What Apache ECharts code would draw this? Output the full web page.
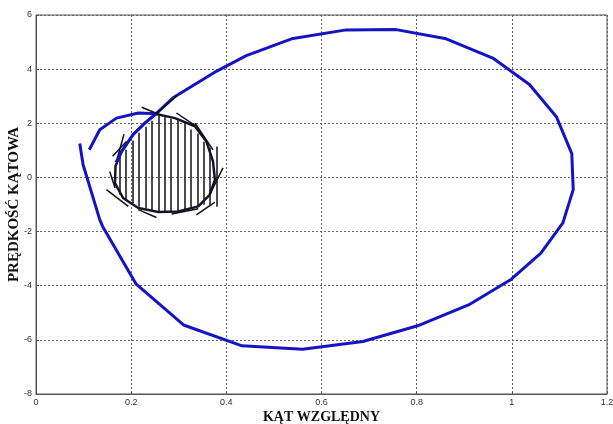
<!DOCTYPE html>
<html>
<head>
<meta charset="utf-8">
<script src="https://cdn.jsdelivr.net/npm/echarts@6/dist/echarts.min.js"></script>
<style>
  html, body { margin: 0; padding: 0; background: #fff; }
  #chart { width: 613px; height: 424px; }
</style>
</head>
<body>
<div id="chart"></div>
<script>
// duża pętla trajektorii (niebieska)
const trajectory = [
  [0.168, 0.55], [0.180, 0.96], [0.204, 1.58], [0.229, 2.01], [0.252, 2.35],
  [0.288, 2.94], [0.379, 3.92], [0.442, 4.50], [0.537, 5.12], [0.652, 5.45],
  [0.757, 5.46], [0.862, 5.12], [0.960, 4.41], [1.037, 3.43], [1.094, 2.23],
  [1.126, 0.88], [1.129, -0.45], [1.107, -1.69], [1.061, -2.80], [0.999, -3.76],
  [0.909, -4.71], [0.802, -5.48], [0.687, -6.06], [0.560, -6.35], [0.433, -6.22],
  [0.310, -5.45], [0.210, -3.93], [0.140, -1.81], [0.134, -1.56], [0.099, 0.47],
  [0.092, 1.25]
];
// krótki łuk po lewej stronie (niebieski)
const leftArc = [
  [0.112, 1.02], [0.134, 1.76], [0.169, 2.19], [0.215, 2.38], [0.252, 2.35]
];
// obszar zamknięty (czarny)
const smallLoop = [
  [0.252, 2.34], [0.292, 2.19], [0.334, 1.89], [0.358, 1.33], [0.372, 0.59],
  [0.376, -0.09], [0.365, -0.64], [0.341, -1.07], [0.299, -1.26], [0.257, -1.28],
  [0.215, -1.13], [0.183, -0.76], [0.166, -0.21], [0.167, 0.41], [0.180, 0.96],
  [0.204, 1.58], [0.229, 2.01], [0.252, 2.34]
];
// kreskowanie
const hatchX = [0.175, 0.189, 0.203, 0.216, 0.230, 0.243, 0.257, 0.271,
  0.284, 0.298, 0.312, 0.325, 0.339, 0.353, 0.366, 0.379];
const hatchTop = [0.84, 1.02, 1.36, 1.65, 1.87, 2.09, 2.28, 2.24,
  2.17, 2.14, 1.99, 1.77, 1.62, 1.32, 1.10, 1.14];
const hatchBottom = [-0.64, -0.82, -0.94, -1.08, -1.16, -1.23, -1.27, -1.31,
  -1.27, -1.27, -1.19, -1.12, -1.08, -1.01, -1.01, -1.08];
// styczne odcinki
const tangents = [
  [[0.222, 2.59], [0.264, 2.29]],
  [[0.252, 2.34], [0.296, 3.02]],
  [[0.295, 2.38], [0.334, 1.92]],
  [[0.334, 2.01], [0.372, 1.02]],
  [[0.393, 0.35], [0.365, -0.64]],
  [[0.376, -0.91], [0.337, -1.38]],
  [[0.285, -1.35], [0.341, -1.16]],
  [[0.215, -1.19], [0.253, -1.48]],
  [[0.148, -0.45], [0.194, -1.07]],
  [[0.155, 0.22], [0.166, -0.39]],
  [[0.161, 0.78], [0.190, 1.33]],
  [[0.185, 1.60], [0.171, 0.72]]
];

const xTitle = 'KĄT WZGLĘDNY';
const yTitle = 'PRĘDKOŚĆ KĄTOWA';

const hatchLines = hatchX.map(function (x, i) {
  return { coords: [[x, hatchTop[i]], [x, hatchBottom[i]]] };
});
const tangentLines = tangents.map(function (seg) {
  return { coords: seg };
});

const blue = '#1414c4';
const tickFont = { fontFamily: 'Liberation Sans Narrow, Liberation Sans, sans-serif', fontSize: 9, color: '#333' };
const titleFont = { fontFamily: 'Liberation Serif, serif', fontWeight: 'bold', fontSize: 14, color: '#111' };

const chart = echarts.init(document.getElementById('chart'));
chart.setOption({
  animation: false,
  grid: {
    left: 36, right: 6, top: 15, bottom: 30,
    containLabel: false, outerBoundsMode: 'none',
    show: true, borderColor: '#555', borderWidth: 1
  },
  xAxis: {
    type: 'value', min: 0, max: 1.2, interval: 0.2,
    name: xTitle, nameLocation: 'middle', nameGap: 16, nameMoveOverlap: false,
    nameTextStyle: titleFont,
    axisLine: { show: true, onZero: false, lineStyle: { color: '#555' } },
    axisTick: { show: true, inside: true, length: 3, lineStyle: { color: '#555' } },
    axisLabel: Object.assign({ margin: 4 }, tickFont),
    splitLine: { show: true, lineStyle: { color: '#666', type: [2, 2], width: 1 } }
  },
  yAxis: {
    type: 'value', min: -8, max: 6, interval: 2,
    name: yTitle, nameLocation: 'middle', nameGap: 14, nameMoveOverlap: false,
    nameTextStyle: Object.assign({}, titleFont, { fontSize: 15 }),
    axisLine: { show: true, onZero: false, lineStyle: { color: '#555' } },
    axisTick: { show: true, inside: true, length: 3, lineStyle: { color: '#555' } },
    axisLabel: Object.assign({ margin: 4 }, tickFont),
    splitLine: { show: true, lineStyle: { color: '#666', type: [2, 2], width: 1 } }
  },
  series: [
    {
      type: 'lines', coordinateSystem: 'cartesian2d', silent: true,
      lineStyle: { color: '#111', width: 1.5, opacity: 1 },
      data: hatchLines, z: 2
    },
    {
      type: 'line', data: smallLoop, showSymbol: false, silent: true,
      lineStyle: { color: '#15152a', width: 2.5 }, z: 3
    },
    {
      type: 'line', data: trajectory, showSymbol: false, silent: true,
      lineStyle: { color: blue, width: 3 }, z: 4
    },
    {
      type: 'line', data: leftArc, showSymbol: false, silent: true,
      lineStyle: { color: blue, width: 3 }, z: 4
    },
    {
      type: 'lines', coordinateSystem: 'cartesian2d', silent: true,
      lineStyle: { color: '#111', width: 1.5, opacity: 1 },
      data: tangentLines, z: 5
    }
  ]
});
</script>
</body>
</html>
